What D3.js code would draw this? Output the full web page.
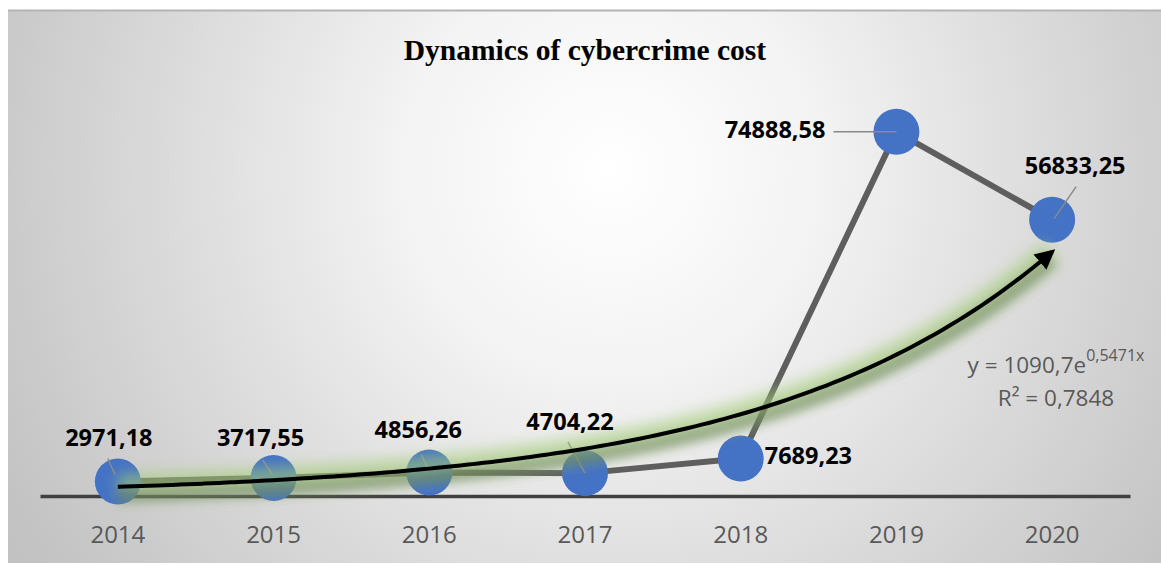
<!DOCTYPE html>
<html>
<head>
<meta charset="utf-8">
<script src="https://cdn.jsdelivr.net/npm/d3@7"></script>
<style>
  html, body { margin: 0; padding: 0; background: #ffffff; }
  svg { display: block; }
</style>
</head>
<body>
<svg id="chart" width="1161" height="565"></svg>
<script>
// Yearly cost of cybercrime with an exponential trend
const years = ["2014", "2015", "2016", "2017", "2018", "2019", "2020"];
const costs = [2971.18, 3717.55, 4856.26, 4704.22, 7689.23, 74888.58, 56833.25];
const costLabels = ["2971,18", "3717,55", "4856,26", "4704,22", "7689,23", "74888,58", "56833,25"];

// Exponential trendline y = a * e^(b x), x = 1..7
const trendA = 1090.7;
const trendB = 0.5471;
const trendEquation = ["y = 1090,7e", "0,5471x"];
const trendR2 = "R² = 0,7848";
const chartTitle = "Dynamics of cybercrime cost";

// Where each data label sits relative to its point, with its leader line
const labelPlacement = [
  { dx: -9,  dy: -36, anchor: "middle", leader: [[-10, -23], [-3, -7]] },
  { dx: -13, dy: -32, anchor: "middle", leader: [[-11, -18], [-1, -3]] },
  { dx: -11, dy: -34, anchor: "middle", leader: [[-8, -18], [-1, -3]] },
  { dx: -15, dy: -43, anchor: "middle", leader: [[-17, -31], [0, 0]] },
  { dx: 24,  dy: 5,   anchor: "start",  leader: null },
  { dx: -71, dy: 6,   anchor: "end",    leader: [[-63, 0], [0, 0]] },
  { dx: 23,  dy: -46, anchor: "middle", leader: [[24, -33], [2, -1]] }
];

const W = 1161, H = 565;
const svg = d3.select("#chart");
const defs = svg.append("defs");

// Chart area background
const bg = defs.append("radialGradient")
  .attr("id", "bgGrad")
  .attr("gradientUnits", "userSpaceOnUse")
  .attr("cx", 610).attr("cy", 170).attr("r", 700);
[[0, "#ffffff"], [0.3, "#f3f3f3"], [0.6, "#dddddd"], [0.9, "#c8c8c8"], [1, "#c2c2c2"]]
  .forEach(([o, c]) => bg.append("stop").attr("offset", o).attr("stop-color", c));

svg.append("rect")
  .attr("x", 8).attr("y", 10).attr("width", W - 8).attr("height", 553)
  .attr("fill", "url(#bgGrad)");
svg.append("line")
  .attr("x1", 8).attr("x2", W).attr("y1", 10.5).attr("y2", 10.5)
  .attr("stroke", "#b4b4b4").attr("stroke-width", 2);

// Scales
const x = d3.scaleBand().domain(years).range([40, 1130]).padding(0);
const y = d3.scaleLinear().domain([0, 80000]).range([496, 107]);
const cx = d => x(d) + x.bandwidth() / 2;

// Category axis
const axis = d3.axisBottom(x).tickSize(0).tickSizeOuter(0).tickPadding(30);
const axisG = svg.append("g").attr("transform", `translate(0,${y(0)})`).call(axis);
axisG.select(".domain").attr("stroke", "#404040").attr("stroke-width", 3.5);
axisG.selectAll("text")
  .attr("fill", "#595959")
  .style("font-family", "'Open Sans', sans-serif")
  .style("font-size", "24px");

const pts = years.map((yr, i) => ({ yr, v: costs[i], lbl: costLabels[i], pl: labelPlacement[i] }));

// Series line
svg.append("path")
  .datum(pts)
  .attr("fill", "none")
  .attr("stroke", "#5e5e5e")
  .attr("stroke-width", 6)
  .attr("stroke-linejoin", "round")
  .attr("d", d3.line().x(d => cx(d.yr)).y(d => y(d.v)));

// Markers
svg.append("g").selectAll("circle")
  .data(pts).join("circle")
  .attr("cx", d => cx(d.yr))
  .attr("cy", d => y(d.v))
  .attr("r", 23)
  .attr("fill", "#4472c4");

// Leader lines
svg.append("g").selectAll("line")
  .data(pts.filter(d => d.pl.leader)).join("line")
  .attr("x1", d => cx(d.yr) + d.pl.leader[0][0])
  .attr("y1", d => y(d.v) + d.pl.leader[0][1])
  .attr("x2", d => cx(d.yr) + d.pl.leader[1][0])
  .attr("y2", d => y(d.v) + d.pl.leader[1][1])
  .attr("stroke", "#8a8a8a")
  .attr("stroke-width", 1.5);

// Trendline
const tx = d3.scaleLinear().domain([1, years.length]).range([cx(years[0]), cx(years[years.length - 1])]);
const trendPts = d3.range(1, years.length + 0.001, 0.05).map(t => [tx(t), y(trendA * Math.exp(trendB * t))]);
const trendLine = d3.line().curve(d3.curveBasis);

const glow = defs.append("filter").attr("id", "glow")
  .attr("x", "-10%").attr("y", "-50%").attr("width", "120%").attr("height", "200%");
glow.append("feGaussianBlur").attr("stdDeviation", 7);
const shade = defs.append("filter").attr("id", "shade")
  .attr("x", "-10%").attr("y", "-50%").attr("width", "120%").attr("height", "200%");
shade.append("feGaussianBlur").attr("stdDeviation", 5);

svg.append("path")
  .attr("d", trendLine(trendPts))
  .attr("fill", "none")
  .attr("stroke", "#a3cc76")
  .attr("stroke-width", 26)
  .attr("stroke-opacity", 0.6)
  .attr("filter", "url(#glow)");
svg.append("path")
  .attr("d", trendLine(trendPts))
  .attr("transform", "translate(0,9)")
  .attr("fill", "none")
  .attr("stroke", "#56684a")
  .attr("stroke-width", 14)
  .attr("stroke-opacity", 0.4)
  .attr("filter", "url(#shade)");

defs.append("marker")
  .attr("id", "arrow")
  .attr("viewBox", "0 0 10 10")
  .attr("refX", 8).attr("refY", 5)
  .attr("markerWidth", 5).attr("markerHeight", 5)
  .attr("markerUnits", "strokeWidth")
  .attr("orient", "auto")
  .append("path")
  .attr("d", "M0,0 L10,5 L0,10 Z")
  .attr("fill", "#000000");

svg.append("path")
  .attr("d", trendLine(trendPts))
  .attr("fill", "none")
  .attr("stroke", "#000000")
  .attr("stroke-width", 4)
  .attr("stroke-linecap", "butt")
  .attr("marker-end", "url(#arrow)");

// Data labels
svg.append("g").selectAll("text")
  .data(pts).join("text")
  .attr("x", d => cx(d.yr) + d.pl.dx)
  .attr("y", d => y(d.v) + d.pl.dy)
  .attr("text-anchor", d => d.pl.anchor)
  .attr("fill", "#000000")
  .style("font-family", "'Open Sans', sans-serif")
  .style("font-weight", "bold")
  .style("font-size", "23.5px")
  .text(d => d.lbl);

// Trend equation
const eq = svg.append("text")
  .attr("x", 1056).attr("y", 373)
  .attr("text-anchor", "middle")
  .attr("fill", "#595959")
  .style("font-family", "'Open Sans', sans-serif")
  .style("font-size", "22.5px");
eq.append("tspan").text(trendEquation[0]);
eq.append("tspan").attr("dy", -12).style("font-size", "16px").text(trendEquation[1]);

svg.append("text")
  .attr("x", 1056).attr("y", 406)
  .attr("text-anchor", "middle")
  .attr("fill", "#595959")
  .style("font-family", "'Open Sans', sans-serif")
  .style("font-size", "22.5px")
  .text(trendR2);

// Title
svg.append("text")
  .attr("x", 585).attr("y", 60)
  .attr("text-anchor", "middle")
  .attr("fill", "#000000")
  .style("font-family", "'Liberation Serif', 'Times New Roman', serif")
  .style("font-weight", "bold")
  .style("font-size", "29.5px")
  .text(chartTitle);
</script>
</body>
</html>
